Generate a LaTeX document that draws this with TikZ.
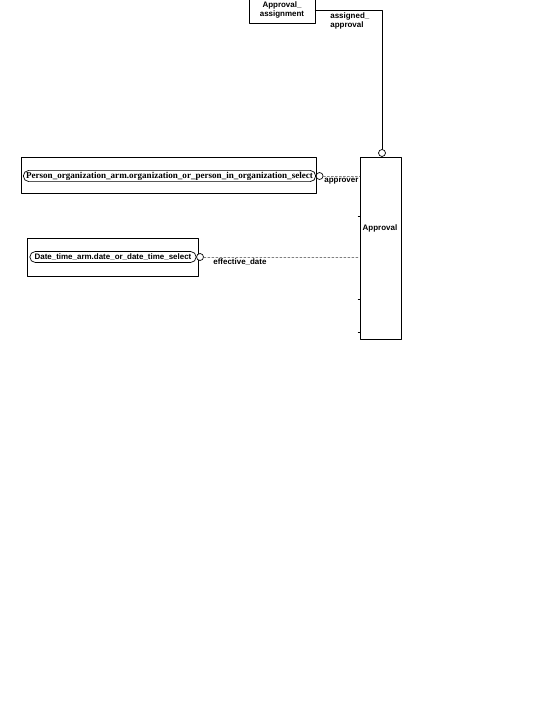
\documentclass[tikz,border=0pt]{standalone}
\usepackage{fontspec}
\setmainfont{Liberation Sans}
\newfontfamily\selfont{Liberation Serif}
\usetikzlibrary{shapes.misc}
\begin{document}
\begin{tikzpicture}[x=1bp,y=-1bp, font=\fontsize{8}{9.5}\selectfont\bfseries, line join=round, line cap=round,
	line width=0.7bp,
	entbox/.style={draw, inner sep=0pt},
	selbox/.style={draw, rounded rectangle, inner xsep=1pt, inner ysep=1.5pt, minimum height=11},
	endring/.style={draw, circle, inner sep=0pt, minimum size=7, fill=white},
	optline/.style={draw=gray, dash pattern=on 2bp off 2bp},
	rolelbl/.style={align=left, inner sep=0pt, anchor=west}]
	\useasboundingbox (0,0) rectangle (540,720);
	% entities
	\node[entbox, minimum width=66, minimum height=26, align=center] (assign) at (282,10) {Approval\_\\assignment};
	\node[entbox, minimum width=41, minimum height=183] (appr) at (380.5,248.5) {};
	\node (apprlbl) at (380,228) {Approval};
	\foreach \y in {216,299,332}
		\draw (appr.west |- 0,\y) -- ++(-1.5,0);
	% selects
	\node[entbox, minimum width=296, minimum height=36] (pers) at (169,175) {};
	\node[selbox, font=\fontsize{9.1}{10}\selectfont\selfont\bfseries] (perssel) at (169.5,176) {Person\_organization\_arm.organization\_or\_person\_in\_organization\_select};
	\node[entbox, minimum width=172, minimum height=38] (date) at (113,257) {};
	\node[selbox, minimum width=169] (datesel) at (113,257) {Date\_time\_arm.date\_or\_date\_time\_select};
	% rings
	\node[endring] (pc) at (perssel.east) [xshift=3.5] {};
	\node[endring] (dc) at (datesel.east) [xshift=3.5] {};
	\node[endring] (ac) at (382,153) {};
	% connectors
	\draw (assign.east) -| (ac.north);
	\draw[optline] (pc.east) -- (appr.west |- pc);
	\draw[optline] (dc.east) -- (appr.west |- dc);
	% roles
	\node[rolelbl] (assignrole) at (330,21) {assigned\_\\approval};
	\node[rolelbl] (persrole) at (324,181) {approver};
	\node[rolelbl] (daterole) at (213,262) {effective\_date};
\end{tikzpicture}
\end{document}
